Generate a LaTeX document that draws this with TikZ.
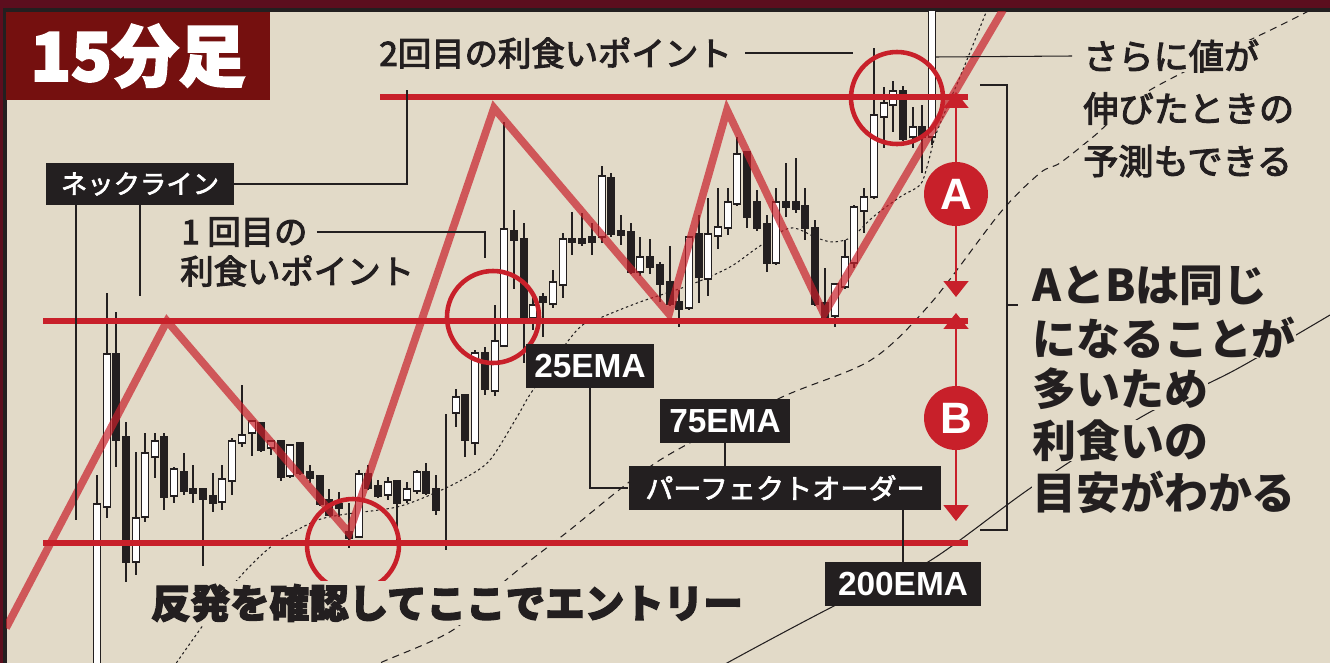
\documentclass[tikz,border=0pt]{standalone}
\usepackage{fontspec}
\setmainfont{Noto Sans CJK JP}
\setsansfont{Liberation Sans}
\usetikzlibrary{arrows.meta,positioning}

\definecolor{panelbg}{RGB}{226,218,200}
\definecolor{framebg}{RGB}{92,14,30}
\definecolor{titlered}{RGB}{117,16,15}
\definecolor{chartred}{RGB}{200,32,42}
\definecolor{boxblack}{RGB}{35,31,32}
\colorlet{upc}{white}
\colorlet{dnc}{boxblack}

% thicker glyphs: fill and stroke the text
\newcommand\heavy[2]{\special{pdf:literal direct #1 w 2 Tr}#2\special{pdf:literal direct 0 Tr}}

\tikzset{
  redline/.style={draw=chartred, line width=3.4pt},
  zig/.style={draw=chartred, draw opacity=0.7, line width=4.4pt, line join=miter},
  ring/.style={draw=chartred, line width=2.6pt},
  wick/.style={draw=boxblack, line width=0.6pt},
  body/.style={draw=boxblack, line width=0.7pt},
  leader/.style={draw=boxblack, line width=0.6pt},
  ema25/.style={draw=boxblack, line width=0.6pt, dash pattern=on 1.4pt off 1.6pt},
  ema75/.style={draw=boxblack, line width=0.6pt, dash pattern=on 4pt off 3pt},
  ema200/.style={draw=boxblack, line width=0.6pt},
  gauge/.style={draw=chartred, line width=1.2pt, {Triangle[width=14pt,length=9pt]}-{Triangle[width=14pt,length=9pt]}},
  bubble/.style={circle, fill=chartred, text=white, minimum size=1.28cm, inner sep=0pt,
    font=\sffamily\bfseries\fontsize{25}{25}\selectfont},
  tag/.style={fill=boxblack, text=white, inner sep=0pt},
  ematag/.style={tag, minimum height=0.87cm, font=\sffamily\bfseries\fontsize{19}{19}\selectfont},
  note/.style={text=boxblack, inner sep=0pt, fill=panelbg}
}

\begin{document}
\begin{tikzpicture}[x=0.02cm,y=-0.02cm]
\useasboundingbox (0,0) rectangle (1330,663);
\fill[framebg] (0,0) rectangle (1330,663);
\begin{scope}
  \clip (0,0) rectangle (1330,663);
  \filldraw[fill=panelbg, draw=boxblack, line width=2pt] (5,10) rectangle (1345,680);
\end{scope}

% chart
\begin{scope}
  \clip (6,11) rectangle (1330,663);
  % moving averages
  \draw[ema25] plot[smooth, tension=0.5] coordinates {(160,690) (177,662) (233,585) (273,545) (313,522) (340,515) (397,507) (437,492) (465,478) (490,460) (517,417) (533,390) (577,330) (600,318) (640,302) (690,285) (730,267) (757,248) (790,228) (817,238) (833,242) (852,237) (873,217) (900,197) (920,185) (927,167) (935,137) (947,107) (960,77) (987,10)};
  \draw[ema75] plot[smooth, tension=0.5] coordinates {(360,675) (380,663) (453,630) (506,580) (566,533) (660,460) (780,398) (871,360) (931,303) (1000,213) (1040,173) (1060,163) (1093,137) (1150,90) (1285,23) (1330,0)};
  \draw[ema200] plot[smooth, tension=0.5] coordinates {(700,680) (727,663) (836,605) (928,562) (1032,487) (1143,416) (1235,370) (1330,315)};

  % candles: x/high/open/close/low/colour
  \foreach \x/\hi/\op/\cl/\lo/\col in {
    97/475/504/680/680/upc, 107/293/354/507/518/upc, 116/312/354/440/467/dnc,
    126/422/437/562/582/dnc, 136/452/518/562/575/upc, 145/433/453/517/522/upc,
    155/433/441/457/478/upc, 164/433/437/497/510/dnc, 174/467/469/496/503/upc,
    184/453/472/491/495/dnc, 193/465/489/493/503/dnc, 203/489/489/499/566/dnc,
    213/473/496/503/512/dnc, 222/465/479/502/510/upc, 232/438/441/481/495/upc,
    242/385/435/443/447/upc, 252/420/421/433/456/upc, 261/423/423/450/452/dnc,
    271/441/441/448/455/upc, 281/441/441/477/481/dnc, 290/445/445/476/478/upc,
    300/443/443/473/475/dnc, 310/465/472/478/483/dnc, 320/476/476/504/506/dnc,
    329/489/500/515/516/dnc, 339/492/504/508/517/dnc, 349/503/532/538/548/dnc,
    359/470/474/537/538/upc, 368/465/474/488/490/dnc, 378/480/486/496/498/dnc,
    388/477/482/495/500/upc, 397/480/481/503/540/dnc, 407/482/489/500/503/upc,
    417/470/472/491/494/upc, 426/463/472/493/495/dnc, 436/475/489/510/515/dnc,
    456/389/397/413/427/upc, 465/394/395/440/457/dnc, 475/350/353/443/455/upc,
    485/347/353/389/395/dnc, 495/305/341/391/396/upc, 504/122/229/346/347/upc,
    514/210/231/240/289/dnc, 524/223/239/317/363/dnc, 533/293/305/318/330/upc,
    543/293/297/302/337/dnc, 553/270/282/304/308/upc, 563/233/239/285/298/upc,
    572/212/239/242/255/dnc, 582/213/239/243/246/dnc, 592/223/237/242/255/dnc,
    602/166/176/237/243/upc, 611/173/178/234/237/dnc, 621/215/231/235/245/dnc,
    631/223/232/272/274/dnc, 640/237/257/272/276/upc, 650/239/257/267/274/dnc,
    660/262/265/284/302/dnc, 670/246/282/304/306/dnc, 679/290/302/309/327/dnc,
    689/237/237/308/310/upc, 699/215/234/277/303/dnc, 708/198/234/279/296/upc,
    718/188/227/236/249/upc, 728/188/202/228/235/upc, 737/137/154/204/206/upc,
    747/152/152/217/228/dnc, 757/190/202/228/231/dnc, 767/215/224/263/272/dnc,
    776/188/202/263/265/upc, 786/163/202/207/217/dnc, 796/158/202/209/213/dnc,
    805/188/206/228/240/dnc, 815/220/228/304/306/dnc, 825/268/303/317/319/dnc,
    835/284/284/316/327/upc, 845/240/257/287/289/upc, 854/205/207/263/268/upc,
    864/188/197/211/233/upc, 874/48/115/197/199/upc, 884/87/103/117/148/upc,
    893/81/91/105/132/upc, 903/86/91/139/141/dnc, 913/107/127/137/148/upc,
    922/105/127/137/173/dnc, 932/0/0/137/145/upc}{
    \draw[wick] (\x,\hi) -- (\x,\lo);
    \filldraw[body, fill=\col] (\x-3.8,\op) rectangle (\x+3.8,\cl);
  }
  \draw[wick] (446,414) -- (446,550);

  % zigzag
  \draw[zig] (6,628) -- (167,321) -- (349,533) -- (494,108) -- (669,314)
    -- (727,110) -- (824,314) -- (1003,10);

  % levels
  \draw[redline] (380,97) -- (968,97);
  \draw[redline] (43,321) -- (968,321);
  \draw[redline] (43,543) -- (968,543);

  % rings
  \draw[ring] (897,98) circle[radius=46];
  \draw[ring] (493,317) circle[radius=46];
  \draw[ring] (353,545) circle[radius=46];
\end{scope}

% A and B
\coordinate (Atop) at (956,92);
\coordinate (Abot) at (956,297);
\coordinate (Btop) at (956,313);
\coordinate (Bbot) at (956,521);
\draw[gauge] (Atop) -- (Abot);
\draw[gauge] (Btop) -- (Bbot);
\node[bubble] (bubA) at (956,194) {A};
\node[bubble] (bubB) at (956,418) {B};

% title
\node[fill=titlered, text=white, minimum width=5.28cm, minimum height=1.76cm, inner sep=0pt,
  font=\bfseries\fontsize{38}{40}\selectfont] (title) at (138,56) {\heavy{1.2}{15分足}};

% labels
\node[tag, minimum width=3.76cm, minimum height=0.84cm, font=\fontsize{15}{15}\selectfont] (neck) at (140,184) {\heavy{0.35}{ネックライン}};
\node[ematag, minimum width=2.58cm] (lbl25) at (590,366) {25EMA};
\node[ematag, minimum width=2.6cm] (lbl75) at (725,421) {75EMA};
\node[tag, minimum width=6.26cm, minimum height=0.88cm, font=\fontsize{16}{16}\selectfont] (perfect) at (785,488) {\heavy{0.35}{パーフェクトオーダー}};
\node[ematag, minimum width=3.12cm] (lbl200) at (903,584) {200EMA};

\node[note, anchor=west, font=\fontsize{19}{19}\selectfont] (second) at (379,53) {\heavy{0.6}{2回目の利食いポイント}};
\node[note, anchor=west, font=\fontsize{19}{19}\selectfont] (first1a) at (181,232) {\heavy{0.6}{1 回目の}};
\node[note, anchor=west, font=\fontsize{19}{19}\selectfont] (first1b) at (180,271) {\heavy{0.6}{利食いポイント}};
\node[note, inner sep=1.5pt, font=\bfseries\fontsize{22.5}{22.5}\selectfont] (entry) at (447,603) {\heavy{0.7}{反発を確認してここでエントリー}};

\foreach \t [count=\i] in {さらに値が, 伸びたときの, 予測もできる}
  \node[note, anchor=west, font=\fontsize{20}{20}\selectfont] (more\i) at (1083,56+52.5*\i-52.5) {\heavy{0.6}{\t}};
\foreach \t [count=\i] in {AとBは同じ, になることが, 多いため, 利食いの, 目安がわかる}
  \node[note, anchor=west, font=\bfseries\fontsize{25}{25}\selectfont] (same\i) at (1032,286+51.5*\i-51.5) {\t};

% leaders
\coordinate (neckend) at (407,90);
\coordinate (leg1) at (76,520);
\coordinate (leg2) at (140,296);
\coordinate (secondend) at (853,53);
\coordinate (firstend) at (485,258);
\coordinate (moreend) at (935,57);
\coordinate (brTop) at (980,85);
\coordinate (brBot) at (980,530);
\coordinate (brTick) at (1007,305);
\draw[leader] (neck.east) -| (neckend);
\draw[leader] (neck.south -| leg1) -- (leg1);
\draw[leader] (neck.south -| leg2) -- (leg2);
\draw[leader] ([xshift=0.26cm]second.east) -- (secondend);
\draw[leader] ([xshift=0.18cm]first1a.east) -| (firstend);
\draw[leader] (moreend) -- ([xshift=-0.22cm]more1.west);
\draw[leader] (lbl25.south) |- (perfect.west);
\draw[leader] (lbl75.south) -- (lbl75.south |- perfect.north);
\draw[leader] (lbl200.north) -- (lbl200.north |- perfect.south);
\draw[leader] (brTop) -| (brTick) |- (brBot);
\draw[leader] (brTick) -- ++(11,0);
\end{tikzpicture}
\end{document}
